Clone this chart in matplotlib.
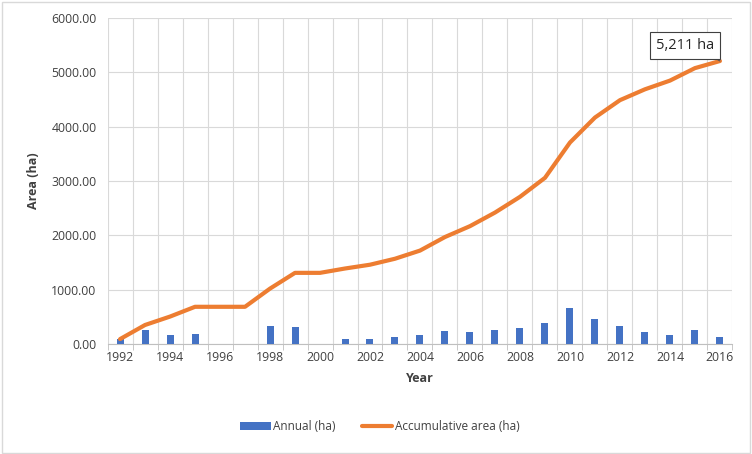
import matplotlib.pyplot as plt
import numpy as np
from matplotlib.patches import Rectangle

years = list(range(1992, 2017))
annual = [90, 250, 160, 190, 0, 0, 340, 310, 0, 90, 90, 120, 160,
          240, 220, 260, 300, 390, 660, 460, 330, 220, 160, 250, 130]
accumulative = [90, 350, 505, 685, 685, 685, 1020, 1310, 1310, 1390, 1460, 1570, 1720,
                1970, 2170, 2420, 2710, 3060, 3710, 4170, 4490, 4690, 4850, 5080, 5211]
y_ticks = [0, 1000, 2000, 3000, 4000, 5000, 6000]

plt.rcParams["font.family"] = ["Open Sans", "DejaVu Sans"]
text_color = "#404040"

fig = plt.figure(figsize=(7.52, 4.54), dpi=100)
ax = fig.add_axes([0.143, 0.2423, 0.831, 0.7177])

x = np.array(years)
bars = ax.bar(x, annual, width=0.28, color="#4472C4", label="Annual (ha)", zorder=3)
line, = ax.plot(x, accumulative, color="#ED7D31", lw=3, solid_capstyle="round",
                label="Accumulative area (ha)", zorder=4)

ax.set_xlim(1991.5, 2016.5)
ax.set_ylim(0, 6000)
ax.set_yticks(y_ticks)
ax.set_yticklabels([f"{v:.2f}" for v in y_ticks])
ax.set_xticks(x[::2])
ax.set_xticks(np.arange(1991.5, 2017, 1), minor=True)
ax.tick_params(axis="y", length=0, labelsize=8.8, colors=text_color, pad=8)
ax.tick_params(axis="x", which="major", length=0, labelsize=8.8, colors=text_color, pad=5)
ax.tick_params(axis="x", which="minor", length=4, color="#BFBFBF")

ax.grid(True, axis="y", color="#D9D9D9", lw=0.8, zorder=0)
ax.grid(True, axis="x", which="minor", color="#D9D9D9", lw=0.8, zorder=0)
for side in ["top", "right", "left"]:
    ax.spines[side].set_visible(False)
ax.spines["bottom"].set_color("#BFBFBF")

ax.set_xlabel("Year", fontsize=9, fontweight="bold", color=text_color, labelpad=6)
ax.set_ylabel("Area (ha)", fontsize=9, fontweight="bold", color=text_color, labelpad=8)

ax.annotate("5,211 ha", xy=(years[-1], accumulative[-1]), xytext=(2014.6, 5500),
            fontsize=10.5, color="#262626", ha="center", va="center",
            bbox=dict(boxstyle="square,pad=0.4", fc="white", ec="#404040", lw=0.8),
            arrowprops=dict(arrowstyle="-", color="#595959", lw=0.8,
                            relpos=(0.85, 0.0), shrinkA=0, shrinkB=0),
            zorder=5)

fig.legend([bars, line], ["Annual (ha)", "Accumulative area (ha)"],
           loc="center", bbox_to_anchor=(0.505, 0.06), ncol=2, frameon=False,
           fontsize=8.5, handlelength=2.6, columnspacing=2.2, handletextpad=0.2,
           labelcolor=text_color)

fig.patches.append(Rectangle((0.002, 0.003), 0.995, 0.993, transform=fig.transFigure,
                             fill=False, ec="#D9D9D9", lw=1))

fig.savefig("out.png", dpi=100)
